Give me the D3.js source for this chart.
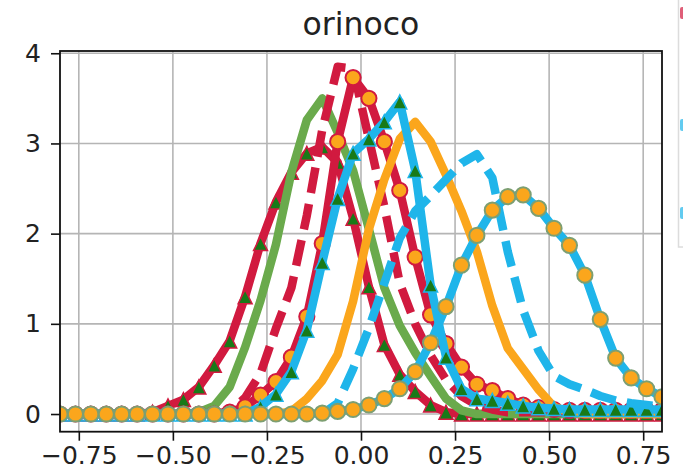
<!DOCTYPE html>
<html><head><meta charset="utf-8">
<script src="https://cdn.jsdelivr.net/npm/d3@7"></script>
<style>
body{margin:0;background:#fff;}
svg{display:block;font-family:"DejaVu Sans",sans-serif;}
</style>
</head><body>
<svg id="c" width="683" height="475"></svg>
<script>
// ---- data ----
const xValues = [-0.800,-0.759,-0.718,-0.677,-0.636,-0.595,-0.554,-0.513,-0.472,-0.431,
  -0.390,-0.349,-0.308,-0.267,-0.226,-0.185,-0.144,-0.103,-0.062,-0.021,
  0.021,0.062,0.103,0.144,0.185,0.226,0.267,0.308,0.349,0.390,
  0.431,0.472,0.513,0.554,0.595,0.636,0.677,0.718,0.759,0.800];
const redTriangles = [0,0,0,0,0,0,0.02,0.09,0.16,0.30,0.54,0.81,1.30,1.89,2.35,2.68,2.89,2.96,2.79,2.17,
  1.41,0.77,0.44,0.25,0.10,0.02,0,0,0,0,0,0,0,0,0,0,0,0,0,0];
const greenSolid = [0,0,0,0,0,0,0,0,0,0.02,0.09,0.30,0.74,1.26,1.88,2.68,3.26,3.50,3.12,2.70,
  2.05,1.40,0.98,0.68,0.42,0.17,0.04,0,0,0,0,0,0,0,0,0,0,0,0,0];
const redDashed = [0,0,0,0,0,0,0,0,0,0,0,0.03,0.18,0.45,0.95,1.40,2.20,3.15,3.85,3.83,
  3.05,2.30,1.45,1.00,0.65,0.38,0.20,0.10,0.05,0.02,0.02,0.02,0.02,0.02,0.02,0.02,0.02,0.02,0.02,0.02];
const redCircles = [0,0,0,0,0,0,0,0,0,0,0,0.02,0.08,0.21,0.36,0.63,1.08,1.89,3.02,3.73,
  3.50,3.02,2.48,1.74,1.10,0.78,0.52,0.33,0.26,0.17,0.10,0.07,0.05,0.04,0.04,0.04,0.04,0.04,0.04,0.04];
const orangeSolid = [0,0,0,0,0,0,0,0,0,0,0,0,0,0,0,0.03,0.17,0.37,0.66,1.25,
  2.05,2.60,3.05,3.24,3.02,2.65,2.25,1.80,1.20,0.73,0.50,0.27,0.08,0.02,0,0,0,0,0,0];
const cyanTriangles = [0,0,0,0,0,0,0,0,0,0,0,0,0,0.08,0.22,0.47,0.93,1.68,2.39,2.89,
  3.05,3.24,3.46,2.70,1.43,0.63,0.28,0.17,0.15,0.12,0.09,0.07,0.06,0.05,0.05,0.05,0.05,0.05,0.05,0.05];
const cyanDashed = [0,0,0,0,0,0,0,0,0,0,0,0,0,0,0,0,0,0,0.12,0.50,
  0.95,1.45,1.95,2.25,2.42,2.60,2.78,2.88,2.62,1.80,1.15,0.70,0.42,0.33,0.27,0.20,0.15,0.12,0.10,0.08];
const cyanCircles = [0,0,0,0,0,0,0,0,0,0,0,0,0,0,0,0,0,0.01,0.03,0.05,
  0.10,0.17,0.28,0.47,0.79,1.19,1.65,1.98,2.26,2.41,2.43,2.28,2.06,1.87,1.54,1.05,0.62,0.40,0.28,0.19];
const xTicks = [-0.75,-0.50,-0.25,0.00,0.25,0.50,0.75];
const yTicks = [0,1,2,3,4];
const title = "orinoco";

// ---- styles ----
const RED = "#d11a3f", GREEN = "#6aaa4c", CYAN = "#1fb5ea", ORANGE = "#fba61c", DKGREEN = "#187a18";
const series = [
  {data: redTriangles, color: RED, dash: null, marker: "tri", mfill: DKGREEN, medge: RED},
  {data: greenSolid, color: GREEN, dash: null, marker: null},
  {data: redDashed, color: RED, dash: "26,11", marker: null},
  {data: redCircles, color: RED, dash: null, marker: "circ", mfill: ORANGE, medge: RED},
  {data: orangeSolid, color: ORANGE, dash: null, marker: null},
  {data: cyanTriangles, color: CYAN, dash: null, marker: "tri", mfill: DKGREEN, medge: CYAN},
  {data: cyanDashed, color: CYAN, dash: "26,11", marker: null},
  {data: cyanCircles, color: CYAN, dash: null, marker: "circ", mfill: ORANGE, medge: "#7d9f72"}
];

const svg = d3.select("#c");
const L = 60, R = 662, T = 51, B = 431.7;
const x = d3.scaleLinear().domain([-0.8, 0.8]).range([L, R]);
const y = d3.scaleLinear().domain([-0.196, 4.025]).range([B, T]);

// legend remnant at right edge
svg.append("rect").attr("x", 678.5).attr("y", -2).attr("width", 20).attr("height", 249)
  .attr("fill", "#fff").attr("stroke", "#dcdcdc").attr("stroke-width", 1.5);
[[13, RED], [125, CYAN], [213, CYAN]].forEach(([yy, c]) => {
  svg.append("rect").attr("x", 680).attr("y", yy - 6).attr("width", 6).attr("height", 12)
    .attr("rx", 2).attr("fill", c).attr("opacity", 0.7);
});

svg.append("defs").append("clipPath").attr("id", "clip")
  .append("rect").attr("x", L).attr("y", T).attr("width", R - L).attr("height", B - T);

// grid
const grid = svg.append("g");
xTicks.forEach(t => grid.append("line").attr("x1", x(t)).attr("x2", x(t)).attr("y1", T).attr("y2", B)
  .attr("stroke", "#b5b5b5").attr("stroke-width", 1.6));
yTicks.forEach(t => grid.append("line").attr("x1", L).attr("x2", R).attr("y1", y(t)).attr("y2", y(t))
  .attr("stroke", "#b5b5b5").attr("stroke-width", 1.6));

// series
const plot = svg.append("g").attr("clip-path", "url(#clip)");
const tri = "M0,-7L7,7L-7,7Z";
series.forEach(s => {
  const pts = xValues.map((xv, i) => [xv, s.data[i]]);
  const line = d3.line().x(d => x(d[0])).y(d => y(d[1]));
  const g = plot.append("g");
  g.append("path").attr("d", line(pts)).attr("fill", "none").attr("stroke", s.color)
    .attr("stroke-width", 8.5).attr("stroke-linejoin", "round")
    .attr("stroke-linecap", s.dash ? "butt" : "square")
    .attr("stroke-dasharray", s.dash);
  if (s.marker === "circ") {
    g.selectAll("circle").data(pts).join("circle")
      .attr("cx", d => x(d[0])).attr("cy", d => y(d[1])).attr("r", 7.6)
      .attr("fill", s.mfill).attr("stroke", s.medge).attr("stroke-width", 2);
  } else if (s.marker === "tri") {
    g.selectAll("path.m").data(pts).join("path").attr("class", "m")
      .attr("transform", d => `translate(${x(d[0])},${y(d[1])})`).attr("d", tri)
      .attr("fill", s.mfill).attr("stroke", s.medge).attr("stroke-width", 1.5);
  }
});

// frame
svg.append("rect").attr("x", L).attr("y", T).attr("width", R - L).attr("height", B - T)
  .attr("fill", "none").attr("stroke", "#111").attr("stroke-width", 1.8);

// axes
const xAxis = svg.append("g").attr("transform", `translate(0,${B})`)
  .call(d3.axisBottom(x).tickValues(xTicks).tickFormat(d3.format(".2f")).tickSize(9).tickPadding(6));
const yAxis = svg.append("g").attr("transform", `translate(${L},0)`)
  .call(d3.axisLeft(y).tickValues(yTicks).tickFormat(d3.format("d")).tickSize(9).tickPadding(10));
[xAxis, yAxis].forEach(a => {
  a.select(".domain").remove();
  a.selectAll(".tick line").attr("stroke", "#111").attr("stroke-width", 1.6);
  a.selectAll(".tick text").attr("fill", "#222").attr("font-size", 25)
    .attr("font-family", "DejaVu Sans, sans-serif");
});

svg.append("text").attr("x", (L + R) / 2).attr("y", 35).attr("text-anchor", "middle")
  .attr("font-size", 31.5).attr("fill", "#222").text(title);
</script>
</body></html>
